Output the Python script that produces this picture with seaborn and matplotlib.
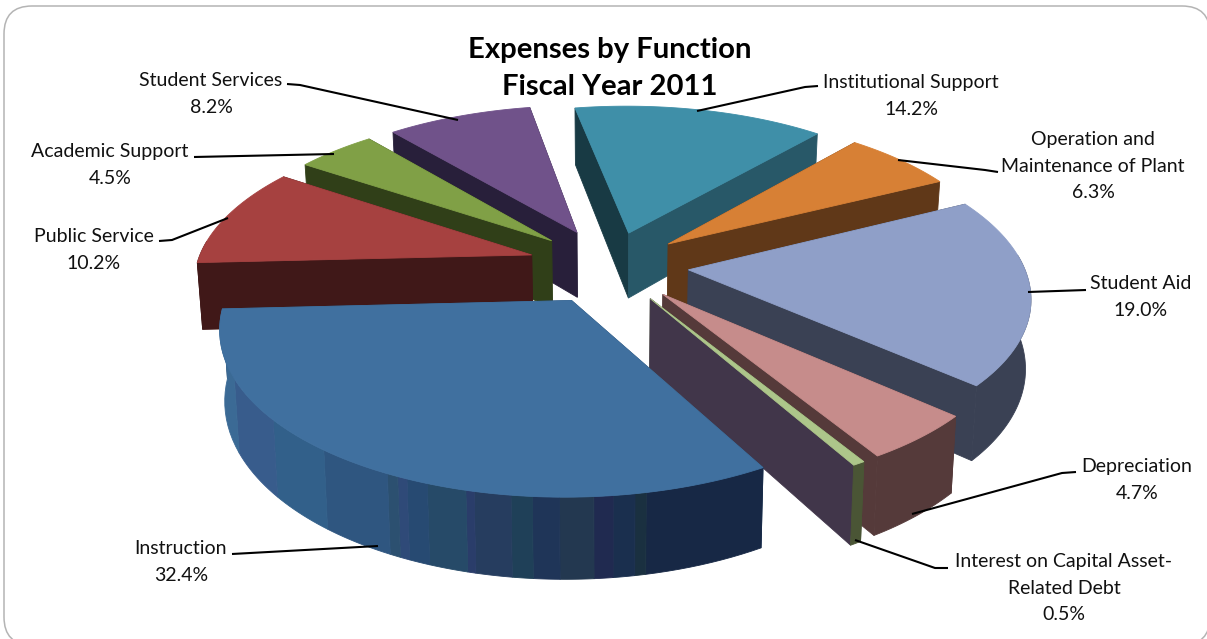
import numpy as np
import matplotlib
matplotlib.use("Agg")
import matplotlib.pyplot as plt
from matplotlib.patches import FancyBboxPatch
import seaborn as sns

# ---- data ----
categories = ["Instruction", "Public Service", "Academic Support", "Student Services",
              "Institutional Support", "Operation and\nMaintenance of Plant", "Student Aid",
              "Depreciation", "Interest on Capital Asset-\nRelated Debt"]
shares = [32.4, 10.2, 4.5, 8.2, 14.2, 6.3, 19.0, 4.7, 0.5]

# ---- styles ----
top_colors = ["#40709f", "#a64140", "#80a046", "#70528a", "#3f8fa8", "#d78035", "#8f9fc8", "#c68c8b", "#adc68a"]
start_side = ["#2a4a6a", "#401818", "#303f18", "#281f3a", "#183a44", "#603818", "#3a4154", "#553a3a", "#4a5535"]
end_side = ["#2a4a6a", "#401818", "#303f18", "#281f3a", "#285868", "#603818", "#3a4154", "#553a3a", "#41364a"]
outer_side = ["#2a4a6a", "#401818", "#303f18", "#281f3a", "#285868", "#603818", "#3a4154", "#553a3a", "#4a5535"]
band_colors = ["#172845", "#1a3040", "#1a2f4e", "#202a50", "#233850", "#1f3558", "#1f4058", "#263d5f", "#2a3d6a",
               "#264a68", "#274a72", "#2f4a78", "#2c5070", "#2f5680", "#32608a", "#385c8c", "#3b6a95"]
band_stops = [0, 18, 19.6, 22.7, 25.4, 30.2, 34, 37, 42.3, 43.5, 49.3, 52.5, 54, 55.7, 67.3, 79.2, 93.5, 116.64]
explode = [0.23, 0.245, 0.24, 0.24, 0.22, 0.225, 0.235, 0.24, 0.23]
nudge_v = [0.02, 0, 0, 0, 0, 0, 0, 0, 0.012]

sns.set_theme(style="white")
plt.rcParams["font.family"] = ["Lato", "DejaVu Sans"]

# ---- layout / projection ----
START_DEG = 60.5
CX, CY, RADIUS, RADIUS_Y, PERSP, DEPTH, TAPER = 610, 265, 335, 155, 0.151, 67, 0.013


def project(u, v, z=0.0):
    u, v = np.asarray(u, float), np.asarray(v, float)
    w = 1.0 / (1.0 - PERSP * v)
    x = CX + RADIUS * u * w * (1 - TAPER * z)
    y = CY + RADIUS_Y * v * w + DEPTH * w * z
    return x, y


fig = plt.figure(figsize=(12.07, 6.39), dpi=100, facecolor="white")
ax = fig.add_axes([0, 0, 1, 1])
ax.set_xlim(0, 1207)
ax.set_ylim(639, 0)
ax.axis("off")

ax.add_patch(FancyBboxPatch((4 + 28, 6 + 28), 1178 - 56 + 28, 639 - 56, boxstyle="round,pad=28,rounding_size=28",
                            fc="white", ec="#b4b4b4", lw=1.1, zorder=0))

fractions = np.array(shares) / np.sum(shares)
edges = np.radians(START_DEG + 360 * np.concatenate([[0], np.cumsum(fractions)]))

slices = []
for i in range(len(shares)):
    t0, t1 = edges[i], edges[i + 1]
    mid = (t0 + t1) / 2
    ou, ov = explode[i] * np.cos(mid), explode[i] * np.sin(mid) + nudge_v[i]
    slices.append((ov + 0.6 * np.sin(mid), i, t0, t1, ou, ov))
slices.sort()


def poly(xs, ys, color, z):
    ax.fill(xs, ys, facecolor=color, edgecolor=color, linewidth=0.6, zorder=z)


def wall(theta, ou, ov, color, z):
    """Outer wall over a run of angles, drawn as one polygon."""
    au, av = ou + np.cos(theta), ov + np.sin(theta)
    xa, ya = project(au, av, 0)
    xb, yb = project(au, av, 1)
    poly(np.r_[xa, xb[::-1]], np.r_[ya, yb[::-1]], color, z)


z = 2.0
for _, i, t0, t1, ou, ov in slices:
    arc = np.linspace(t0, t1, max(int(np.degrees(t1 - t0)), 2) + 1)
    au, av = ou + np.cos(arc), ov + np.sin(arc)
    for t, col in ((t0, start_side[i]), (t1, end_side[i])):
        us, vs = [ou, ou + np.cos(t)], [ov, ov + np.sin(t)]
        xa, ya = project(us, vs, 0)
        xb, yb = project(us, vs, 1)
        poly(np.r_[xa, xb[::-1]], np.r_[ya, yb[::-1]], col, z)
    z += 0.01
    if i == 0:
        for b, col in enumerate(band_colors):
            run = np.radians(np.linspace(START_DEG + band_stops[b], START_DEG + band_stops[b + 1], 12))
            wall(run, ou, ov, col, z)
    else:
        visible = arc[np.sin(arc) > -0.1]
        if len(visible) > 1:
            wall(visible, ou, ov, outer_side[i], z)
    z += 0.01
    xt, yt = project(np.r_[ou, au], np.r_[ov, av], 0)
    poly(xt, yt, top_colors[i], z)
    z += 0.01

# ---- labels ----
label_centers = [(181, 562), (94, 250), (110, 165), (211, 94), (911, 96), (1093, 166), (1141, 297), (1137, 480), (1064, 588)]
leaders = [[(232, 554), (378, 546)],
           [(159, 241), (172, 240), (228, 218)],
           [(194, 157), (334, 154)],
           [(287, 84), (300, 85), (458, 120)],
           [(818, 86), (805, 87), (697, 111)],
           [(998, 172), (985, 170), (898, 160)],
           [(1086, 290), (1028, 292)],
           [(1076, 472), (1062, 473), (912, 514)],
           [(948, 568), (935, 568), (855, 540)]]

for name, share, (lx, ly), pts in zip(categories, shares, label_centers, leaders):
    ax.text(lx, ly, f"{name}\n{share:.1f}%", ha="center", va="center", fontsize=14,
            color="#111111", linespacing=1.65, zorder=10)
    px, py = zip(*pts)
    ax.plot(px, py, color="black", lw=1.5, solid_capstyle="butt", zorder=9)

ax.text(610, 68.5, "Expenses by Function\nFiscal Year 2011", ha="center", va="center", fontsize=21.1,
        fontweight="bold", color="black", linespacing=1.53, zorder=10)

fig.savefig("out.png", dpi=100)
